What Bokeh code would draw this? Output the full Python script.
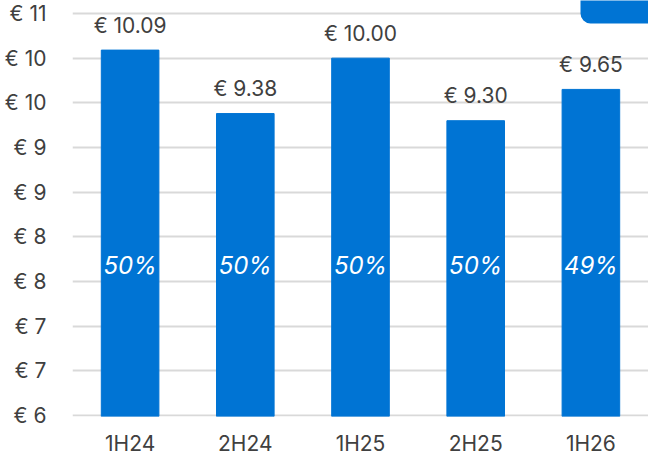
import math
from bokeh.plotting import figure
from bokeh.models import ColumnDataSource, FixedTicker, Range1d, BoxAnnotation
from bokeh.core.properties import value
from bokeh.embed import file_html
from bokeh.resources import INLINE

categories = ["1H24", "2H24", "1H25", "2H25", "1H26"]
prices = [10.09, 9.38, 10.00, 9.30, 9.65]
shares = ["50%", "50%", "50%", "50%", "49%"]
y_ticks = [6, 6.5, 7, 7.5, 8, 8.5, 9, 9.5, 10, 10.5]
share_label_level = 7.675

BLUE = "#0074D4"
TEXT = "#404040"
FONT = "Inter"

src = ColumnDataSource(dict(
    cat=categories,
    price=prices,
    price_label=[f"€ {v:.2f}" for v in prices],
    share=shares,
    share_y=[share_label_level] * len(categories),
))

p = figure(x_range=categories, y_range=Range1d(5.99, 10.645),
           width=648, height=458, output_backend="svg", toolbar_location=None,
           min_border_left=72, min_border_right=0, min_border_top=0, min_border_bottom=42)
p.outline_line_color = None
p.background_fill_color = "white"

p.vbar(x="cat", top="price", bottom=5.99, width=0.5, source=src, color=BLUE)
p.text(x="cat", y="price", text="price_label", source=src, text_align="center",
       text_baseline="alphabetic", y_offset=-25, text_font=value(FONT), text_font_size="21px",
       text_color=TEXT)
p.text(x="cat", y="share_y", text="share", source=src, text_align="center",
       text_baseline="alphabetic", text_font=value(FONT), text_font_size="24px",
       text_font_style="italic", text_color="white")

p.yaxis.ticker = FixedTicker(ticks=y_ticks)
p.yaxis.major_label_overrides = {t: f"€ {math.floor(t + 0.5)}" for t in y_ticks}
for ax in (p.xaxis[0], p.yaxis[0]):
    ax.axis_line_color = None
    ax.major_tick_line_color = None
    ax.minor_tick_line_color = None
    ax.major_tick_out = 0
    ax.major_tick_in = 0
    ax.minor_tick_out = 0
    ax.minor_tick_in = 0
    ax.major_label_text_font = FONT
    ax.major_label_text_font_size = "21px"
    ax.major_label_text_color = TEXT
p.yaxis.major_label_standoff = 26
p.xaxis.major_label_standoff = 14

p.xgrid.grid_line_color = None
p.ygrid.grid_line_color = "#D9D9D9"
p.ygrid.grid_line_width = 2
p.ygrid.ticker = FixedTicker(ticks=y_ticks)

p.add_layout(BoxAnnotation(left=508, right=700, bottom=393, top=440,
                           left_units="screen", right_units="screen",
                           top_units="screen", bottom_units="screen",
                           fill_color=BLUE, fill_alpha=1, line_color=None,
                           border_radius=10, level="overlay"))

open("out.html", "w").write(file_html(p, INLINE))
